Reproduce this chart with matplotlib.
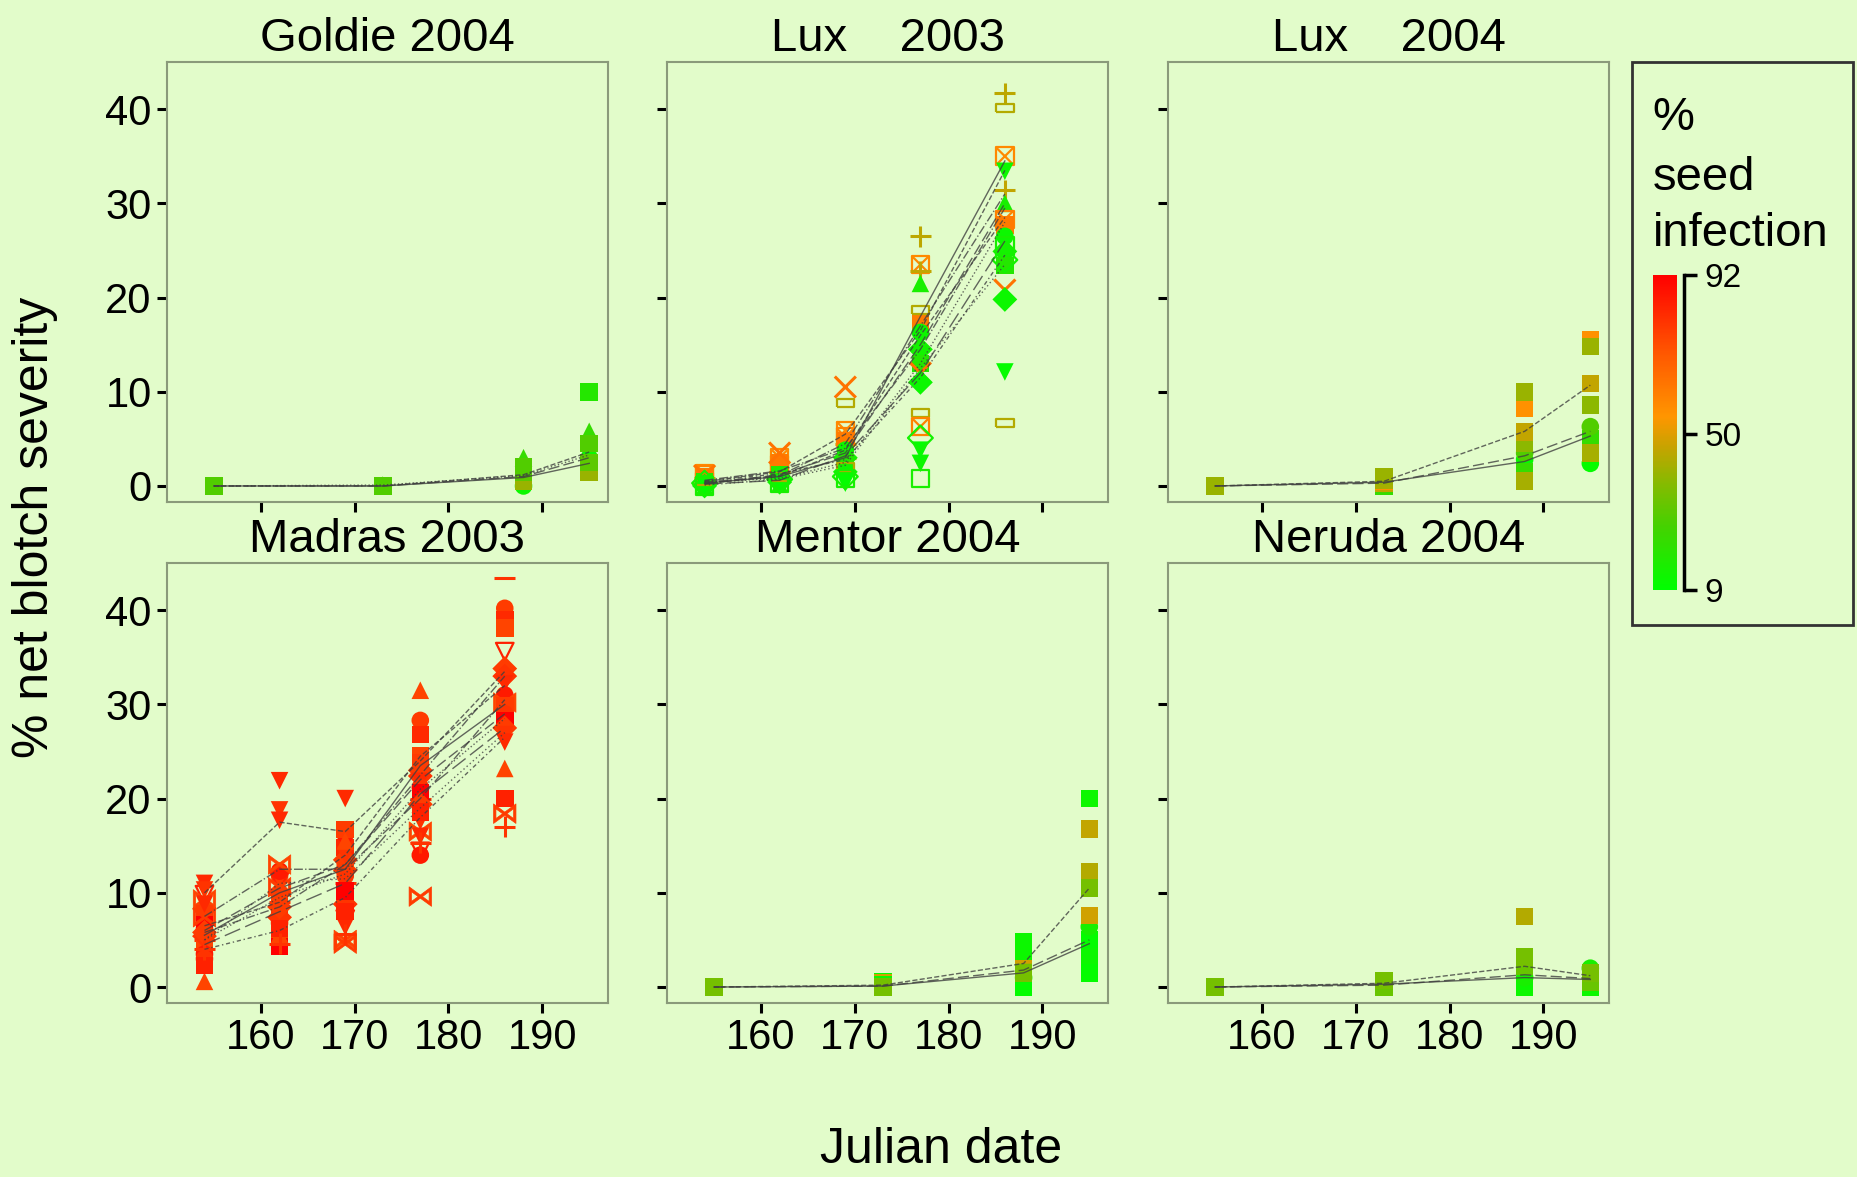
import numpy as np
import matplotlib.pyplot as plt
import matplotlib.cm as cm
from matplotlib.colors import LinearSegmentedColormap, Normalize
from matplotlib.patches import Rectangle

plt.rcParams['font.family'] = ['Liberation Sans', 'DejaVu Sans']

BG = '#e2fcca'

# sampling dates (julian day)
dates_2003 = [154, 162, 169, 177, 186]
dates_2004 = [155, 173, 188, 195]

# severity: one row per date, one column per seed lot
goldie_seed = [12, 18, 22, 40, 30, 28]
goldie_sev = [[0, 0, 0, 0, 0, 0],
              [0, 0, 0.1, 0, 0, 0],
              [0.0, 1.0, 3.0, 0.5, 1.5, 2.0],
              [3.0, 10.0, 5.8, 1.5, 2.5, 4.5]]
goldie_fit = [[0, 0, 1.2, 3.6], [0, 0, 0.9, 2.4], [0, 0, 1.0, 3.0], [0, 0.1, 1.1, 3.3]]

lux03_seed = [45, 44, 58, 12, 46, 15, 60, 62, 12, 14, 18, 64, 12, 10, 44, 15, 14]
lux03_sev = [[0.8, 1.0, 1.3, 0.2, 0.5, 0.0, 1.2, 1.0, 0.3, 0.1, 0.4, 1.1, 0.0, 0.2, 0.5, 0.0, 0.3],
             [1.5, 2.0, 3.0, 0.5, 1.5, 0.2, 2.2, 2.5, 1.0, 0.8, 1.2, 3.5, 0.4, 0.6, 1.0, 0.3, 0.7],
             [3.0, 8.8, 5.9, 1.2, 4.5, 2.0, 5.2, 4.8, 3.8, 3.0, 2.5, 10.5, 1.5, 0.3, 2.0, 0.8, 1.0],
             [26.5, 7.7, 23.5, 2.4, 22.8, 21.5, 6.3, 17.3, 16.3, 14.5, 13.0, 12.0, 11.0, 3.8, 18.7, 0.8, 5.1],
             [41.7, 6.7, 35.0, 33.4, 31.4, 30.0, 28.3, 27.7, 26.5, 24.9, 23.4, 20.8, 19.8, 12.1, 40.1, 25.5, 24.0]]
lux03_fit = [[0.5, 1.5, 5.5, 16.5, 33.5], [0.3, 1.0, 3.0, 18.0, 34.5], [0.2, 1.2, 3.5, 15.0, 30.0],
             [0.4, 0.8, 2.5, 13.0, 28.0], [0.6, 1.6, 4.0, 14.5, 29.5], [0.2, 0.6, 3.2, 12.0, 26.0],
             [0.5, 1.3, 2.8, 11.5, 24.5], [0.3, 1.0, 3.8, 16.0, 28.5], [0.1, 0.7, 2.2, 12.5, 23.5],
             [0.4, 1.1, 4.5, 17.0, 31.0]]

lux04_seed = [10, 22, 28, 38, 46, 56, 42, 40]
lux04_sev = [[0, 0, 0, 0, 0, 0, 0, 0],
             [0.1, 0.0, 0.2, 0.8, 0.3, 0.5, 0.6, 1.0],
             [2.8, 1.5, 3.5, 4.5, 5.7, 8.3, 0.5, 10.0],
             [2.4, 5.0, 6.3, 8.6, 10.9, 15.5, 3.5, 14.8]]
lux04_fit = [[0, 0.5, 5.8, 10.7], [0, 0.4, 2.6, 5.3], [0, 0.3, 3.2, 5.8]]

madras_seed = [80, 78, 82, 76, 84, 78, 80, 82, 86, 76, 78, 80, 92, 78, 80, 82, 76, 84, 78, 80]
madras_sev = [[5.0, 6.2, 7.0, 4.5, 9.8, 8.3, 5.4, 11.0, 3.5, 9.3, 7.8, 3.0, 6.6, 5.8, 10.3, 8.8, 0.6, 2.3, 7.4, 4.0],
              [9.0, 11.8, 8.0, 5.0, 11.2, 10.0, 7.4, 21.9, 12.3, 13.0, 9.5, 6.8, 4.3, 8.5, 18.8, 17.7, 5.6, 6.2, 10.6, 4.6],
              [11.0, 13.0, 14.8, 9.5, 7.2, 12.4, 8.8, 20.0, 16.2, 5.0, 16.7, 11.8, 10.2, 13.5, 14.0, 6.4, 15.5, 8.0, 4.6, 5.6],
              [20.0, 28.3, 26.8, 24.5, 14.4, 23.0, 22.4, 21.8, 14.0, 16.5, 23.8, 21.2, 20.6, 19.4, 17.6, 16.0, 31.5, 18.6, 9.6, 15.3],
              [43.4, 40.2, 39.0, 38.1, 35.6, 33.8, 33.0, 32.2, 31.0, 30.2, 29.8, 29.0, 28.3, 27.5, 26.8, 26.0, 23.2, 20.0, 18.4, 17.0]]
madras_fit = [[10.0, 17.5, 16.5, 24.0, 33.5], [5.5, 10.0, 12.5, 23.5, 30.0], [6.0, 10.5, 13.0, 22.0, 29.0],
              [5.0, 9.5, 12.0, 21.0, 28.5], [7.5, 12.5, 12.5, 20.0, 30.5], [4.5, 8.0, 11.0, 20.5, 27.5],
              [4.0, 6.0, 9.5, 18.0, 26.5], [6.5, 9.0, 14.0, 24.5, 32.0], [5.0, 11.0, 11.5, 19.0, 27.0],
              [5.8, 8.5, 13.0, 22.5, 33.0]]

mentor_seed = [12, 10, 15, 46, 44, 48, 12, 10, 34]
mentor_sev = [[0, 0, 0, 0, 0, 0, 0, 0, 0],
              [0.3, 0.6, 0.1, 0.2, 0.5, 0.4, 0.2, 0.0, 0.0],
              [4.8, 0.0, 1.0, 2.8, 2.0, 3.5, 3.8, 0.5, 1.5],
              [20.0, 5.0, 6.4, 16.8, 12.2, 7.6, 3.2, 1.5, 10.5]]
mentor_fit = [[0, 0.2, 2.5, 10.5], [0, 0.1, 1.5, 4.6], [0, 0.1, 1.8, 5.0]]

neruda_seed = [12, 15, 44, 32, 34]
neruda_sev = [[0, 0, 0, 0, 0],
              [0.2, 0.5, 0.3, 0.0, 0.7],
              [0.0, 1.0, 7.5, 2.2, 3.2],
              [0.0, 2.0, 1.0, 0.5, 1.5]]
neruda_fit = [[0, 0.4, 2.2, 1.2], [0, 0.3, 1.0, 0.8], [0, 0.2, 1.3, 0.9]]

# ---- styles ----
rect = [(-1, -0.45), (1, -0.45), (1, 0.45), (-1, 0.45), (-1, -0.45)]
lux03_mk = ['+', 'rect', 'sx', 'v', '+', '^', 'sx', 's', 'o', 'D', 's', 'x', 'D', 'v', 'rect', 'open_s', 'open_D']
madras_mk = ['_', 'o', 's', 's', 'open_v', 'D', 'D', 'v', 'o', 'bowtie', 's', 'o', 's', 'D', 'v', 'v', '^', 's',
             'bowtie', '+']
lux04_mk = ['o', 's', 'o', 's', 's', 's', 's', 's']
goldie_mk = ['o', 's', '^', 's', 's', 's']
mentor_mk = ['s', 's', 'o', 's', 's', 's', 's', 's', 's']
neruda_mk = ['s', 'o', 's', 's', 's']
fit_ls = ['--', '-', (0, (8, 3)), ':', '-.', (0, (12, 4)), (0, (3, 2, 1, 2)), '--', (0, (1, 2)), '-.']

cmap = LinearSegmentedColormap.from_list('seed', [(0.0, '#00ff00'), (0.2, '#44d200'), (0.35, '#8cb800'),
                                                  (0.45, '#c4a400'), (0.55, '#ff9600'), (0.75, '#ff5800'),
                                                  (1.0, '#ff0000')])
norm = Normalize(9, 92)

panels = [('Goldie 2004', dates_2004, goldie_sev, goldie_seed, goldie_mk, goldie_fit),
          ('Lux    2003', dates_2003, lux03_sev, lux03_seed, lux03_mk, lux03_fit),
          ('Lux    2004', dates_2004, lux04_sev, lux04_seed, lux04_mk, lux04_fit),
          ('Madras 2003', dates_2003, madras_sev, madras_seed, madras_mk, madras_fit),
          ('Mentor 2004', dates_2004, mentor_sev, mentor_seed, mentor_mk, mentor_fit),
          ('Neruda 2004', dates_2004, neruda_sev, neruda_seed, neruda_mk, neruda_fit)]

fig = plt.figure(figsize=(18.57, 11.77), dpi=100, facecolor=BG)

lefts = [0.0899, 0.3592, 0.6290]
bottoms = [0.5735, 0.1478]
w, h = 0.2375, 0.3738


def draw_lot(ax, x, y, col, mk):
    kw = dict(s=160, zorder=2, linewidths=1.6)
    if mk == 'rect':
        ax.scatter(x, y, marker=rect, facecolors='none', edgecolors=col, **kw)
    elif mk == 'sx':
        ax.scatter(x, y, marker='s', facecolors='none', edgecolors=col, **kw)
        ax.scatter(x, y, marker='x', c=[col] * len(x), **kw)
    elif mk.startswith('open_'):
        ax.scatter(x, y, marker=mk[5:], facecolors='none', edgecolors=col, **kw)
    elif mk == 'bowtie':
        ax.scatter(x, y, marker='$\\bowtie$', c=[col] * len(x), s=260, zorder=2, linewidths=0.5)
    elif mk in ('+', 'x', '_'):
        ax.scatter(x, y, marker=mk, c=[col] * len(x), s=230, zorder=2, linewidths=2.2)
    else:
        ax.scatter(x, y, marker=mk, c=[col] * len(x), edgecolors='none', s=160, zorder=2)


for i, (title, dates, sev, seed, mks, fits) in enumerate(panels):
    r, c = divmod(i, 3)
    ax = fig.add_axes([lefts[c], bottoms[r], w, h])
    ax.set_facecolor(BG)
    sev = np.array(sev)
    for j in range(sev.shape[1]):
        draw_lot(ax, dates, sev[:, j], cmap(norm(seed[j])), mks[j])
    for k, f in enumerate(fits):
        ax.plot(dates, f, color='#404040', lw=1.0, ls=fit_ls[k % len(fit_ls)], alpha=0.8, zorder=3)
    ax.set_xlim(150, 197)
    ax.set_ylim(-1.7, 45)
    ax.set_xticks([160, 170, 180, 190])
    ax.set_yticks([0, 10, 20, 30, 40])
    ax.tick_params(direction='out', length=7, width=2.2, labelsize=30, pad=4)
    ax.tick_params(labelbottom=(r == 1), labelleft=(c == 0))
    for sp in ax.spines.values():
        sp.set_color('#8a9a7a')
        sp.set_linewidth(1.5)
    ax.set_title(title, fontsize=34, pad=8)

fig.text(0.019, 0.552, '% net blotch severity', rotation=90, ha='center', va='center', fontsize=36)
fig.text(0.507, 0.023, 'Julian date', ha='center', va='center', fontsize=36)

# legend box with colour scale
fig.patches.append(Rectangle((0.8788, 0.469), 0.1190, 0.4783, transform=fig.transFigure,
                             facecolor='none', edgecolor='#333333', lw=2))
fig.text(0.890, 0.8896, '%', fontsize=34, va='baseline')
fig.text(0.890, 0.8386, 'seed', fontsize=34, va='baseline')
fig.text(0.890, 0.7910, 'infection', fontsize=34, va='baseline')

cax = fig.add_axes([0.8901, 0.4987, 0.0129, 0.2676])
cb = fig.colorbar(cm.ScalarMappable(norm=norm, cmap=cmap), cax=cax)
cb.outline.set_visible(False)
cax.set_yticks([])

bax = fig.add_axes([0.9068, 0.4987, 0.0065, 0.2676])
bax.set_facecolor('none')
bax.set_ylim(9, 92)
bax.set_xticks([])
bax.set_yticks([9, 50, 92])
for name, sp in bax.spines.items():
    sp.set_visible(name == 'left')
bax.spines['left'].set_linewidth(2.5)
bax.tick_params(axis='y', direction='in', length=9, width=2.5, left=True, right=False,
                labelleft=False, labelright=True, labelsize=24, pad=6)

fig.savefig('out.png', dpi=100, facecolor=BG)
